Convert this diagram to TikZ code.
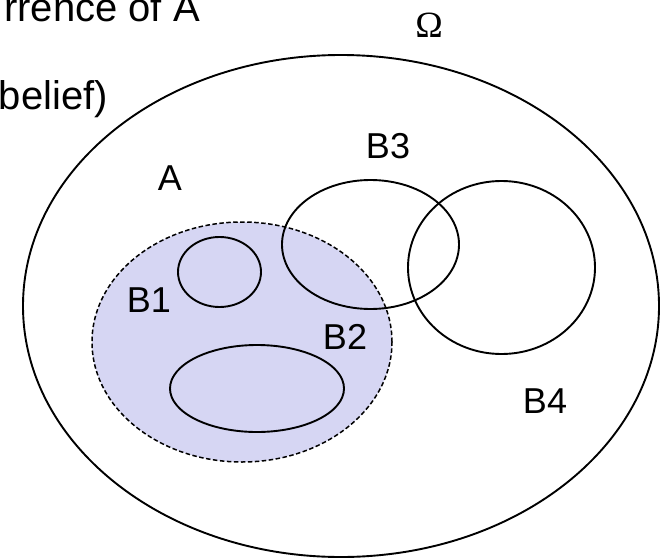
\documentclass[tikz,border=0pt]{standalone}
\usepackage{fontspec}
\setmainfont{Liberation Sans}
\newfontfamily\omegafont{Liberation Serif}
\usepackage{tikz}
\usetikzlibrary{calc}
\usepackage{xcolor}
\definecolor{beliefblue}{RGB}{214,214,243}

\tikzset{
    setline/.style={line width=1.9pt},
    lbl/.style={font=\fontsize{36}{40}\selectfont, inner sep=0pt},
    headline/.style={font=\fontsize{40}{44}\selectfont, inner sep=0pt, anchor=base east},
}

\begin{document}
\begin{tikzpicture}[x=1pt, y=1pt]
    \useasboundingbox (0,0) rectangle (660,558);
    \coordinate (omega) at (341,252);
    \coordinate (setA) at (242,216);
    \coordinate (b1) at (219.5,286);
    \coordinate (b2) at (257,169.5);
    \coordinate (b3) at (370.5,313.5);
    \coordinate (b4) at (501.5,290.5);
    % shaded event A, dashed border
    \fill[beliefblue] (setA) ellipse [x radius=150, y radius=120];
    \draw[line width=1.5pt, dashed, dash pattern=on 4.5pt off 2.5pt] (setA) ellipse [x radius=150, y radius=120];
    \draw[setline] (omega) ellipse [x radius=318, y radius=251];
    \draw[setline] (b1) ellipse [x radius=41.5, y radius=35];
    \draw[setline] (b2) ellipse [x radius=87, y radius=43.5];
    \draw[setline] (b3) ellipse [x radius=88.5, y radius=64.5];
    \draw[setline] (b4) ellipse [x radius=93.5, y radius=86.5];
    \node[lbl, font=\omegafont\fontsize{37}{40}\selectfont] (omegaLabel) at (429,533) {Ω};
    \node[lbl] (aLabel) at (170,380) {A};
    \node[lbl] (b1Label) at (149,258) {B1};
    \node[lbl] (b2Label) at (345,221) {B2};
    \node[lbl] (b3Label) at (388,412) {B3};
    \node[lbl] (b4Label) at (545,157) {B4};
    % heading lines, running off the left edge
    \node[headline] (headOne) at (200,536) {rrence of A};
    \node[headline] (headTwo) at (108,448) {belief)};
\end{tikzpicture}
\end{document}
